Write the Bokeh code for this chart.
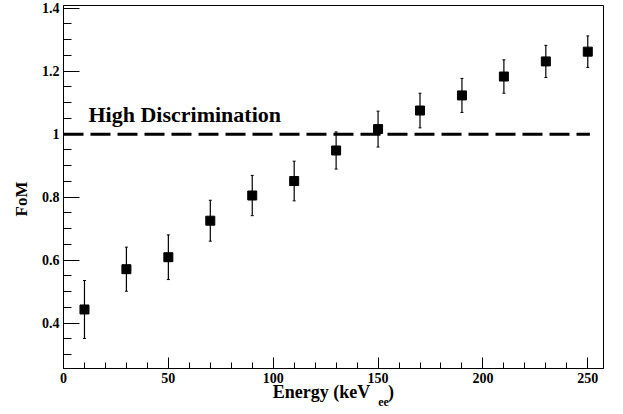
import math
from bokeh.plotting import figure
from bokeh.layouts import column
from bokeh.models import (Range1d, FixedTicker, Label, Whisker, TeeHead, ColumnDataSource, Title)
from bokeh.core.properties import value
from bokeh.embed import file_html
from bokeh.resources import INLINE

# ---- data ----
energy = [10, 30, 50, 70, 90, 110, 130, 150, 170, 190, 210, 230, 250]
fom = [0.443, 0.571, 0.609, 0.725, 0.805, 0.851, 0.948, 1.016, 1.075, 1.123, 1.183, 1.231, 1.262]
fom_err = [0.092, 0.070, 0.071, 0.065, 0.064, 0.063, 0.059, 0.057, 0.055, 0.054, 0.053, 0.051, 0.050]
hline_x = [0, 251]
hline_y = [1.0, 1.0]
x_ticks = [0, 50, 100, 150, 200, 250]
y_ticks = [0.4, 0.6, 0.8, 1.0, 1.2, 1.4]
y_tick_labels = ["0.4", "0.6", "0.8", "1", "1.2", "1.4"]
x_minor = list(range(0, 260, 10))
y_minor = [round(0.3 + 0.05 * i, 2) for i in range(23)]

FONT = "Liberation Serif"

W = 623
H_MAIN = 390
H_TITLE, OVERLAP = 36, 12
BL, BR, BT, BB = 63, 20, 5, 22
X0, X1 = 0, 257.5
Y0, Y1 = 0.2555, 1.4086


def xd(px):
    return X0 + (px - BL) / (W - BL - BR) * (X1 - X0)


def yd(py):
    return Y1 - (py - BT) / (H_MAIN - BT - BB) * (Y1 - Y0)


src = ColumnDataSource(dict(
    x=energy, y=fom,
    upper=[f + e for f, e in zip(fom, fom_err)],
    lower=[f - e for f, e in zip(fom, fom_err)],
))

p = figure(width=W, height=H_MAIN, output_backend="svg", toolbar_location=None,
           x_range=Range1d(X0, X1), y_range=Range1d(Y0, Y1),
           min_border_left=BL, min_border_right=BR, min_border_top=BT, min_border_bottom=BB)

p.background_fill_color = "white"
p.border_fill_color = "white"
p.outline_line_color = "black"
p.outline_line_width = 1
p.xgrid.visible = False
p.ygrid.visible = False

xa = p.xaxis[0]
xa.ticker = FixedTicker(ticks=x_ticks, minor_ticks=x_minor)
xa.major_tick_in = 11
xa.major_tick_out = 0
xa.minor_tick_in = 6
xa.minor_tick_out = 0
xa.axis_line_color = "black"
xa.major_label_text_font = FONT
xa.major_label_text_font_style = "bold"
xa.major_label_text_font_size = "14px"
xa.major_label_text_color = "black"
xa.major_label_standoff = 4

ya = p.yaxis[0]
ya.ticker = FixedTicker(ticks=y_ticks, minor_ticks=y_minor)
ya.major_label_overrides = {t: l for t, l in zip(y_ticks, y_tick_labels)}
ya.major_tick_in = 16
ya.major_tick_out = 0
ya.minor_tick_in = 8
ya.minor_tick_out = 0
ya.axis_line_color = "black"
ya.major_label_text_font = FONT
ya.major_label_text_font_style = "bold"
ya.major_label_text_font_size = "14px"
ya.major_label_text_color = "black"
ya.major_label_standoff = 4

# y axis title (align "left" on a left panel = measured from the bottom)
p.add_layout(Title(text="FoM", align="left", offset=152, standoff=16,
                   text_font=FONT, text_font_style="bold", text_font_size="17px",
                   text_color="black"), "left")

# reference line
p.line(hline_x, hline_y, line_color="black", line_width=3, line_dash="20 7", line_cap="butt")

# error bars
p.add_layout(Whisker(source=src, base="x", upper="upper", lower="lower",
                     line_color="black", line_width=1.2,
                     upper_head=TeeHead(size=3, line_color="black", line_width=1),
                     lower_head=TeeHead(size=3, line_color="black", line_width=1)))

p.scatter("x", "y", source=src, marker="square", size=9, fill_color="black", line_color="black")

p.add_layout(Label(x=xd(88), y=yd(114), text="High Discrimination", text_font=FONT,
                   text_font_style="bold", text_font_size="22px", text_color="black",
                   text_align="left", text_baseline="alphabetic"))

# x axis title strip (pixel coordinates), overlapping the bottom border of p
q = figure(width=W, height=H_TITLE, output_backend="svg", toolbar_location=None,
           x_range=Range1d(0, W), y_range=Range1d(0, H_TITLE),
           x_axis_location=None, y_axis_location=None,
           min_border_left=0, min_border_right=0, min_border_top=0, min_border_bottom=0,
           margin=(-OVERLAP, 0, 0, 0))
q.min_border = 0
q.outline_line_color = None
q.xgrid.visible = False
q.ygrid.visible = False
q.background_fill_color = None
q.border_fill_color = None

BOTTOM = H_MAIN + H_TITLE - OVERLAP  # canvas y of q's bottom edge
title_parts = ["Energy (keV", "ee", ")"]
title_x = [354, 363, 374.5]
title_y = [BOTTOM - 391, BOTTOM - 401, BOTTOM - 391]
title_size = ["18px", "12px", "18px"]
title_align = ["right", "left", "left"]
tsrc = ColumnDataSource(dict(x=title_x, y=title_y, text=title_parts, size=title_size,
                             align=title_align))
q.text("x", "y", text="text", source=tsrc, text_font=value(FONT), text_font_style="bold",
       text_font_size="size", text_align="align", text_baseline="alphabetic",
       text_color="black")

layout = column(p, q, spacing=0)
open("out.html", "w").write(file_html(layout, INLINE))
